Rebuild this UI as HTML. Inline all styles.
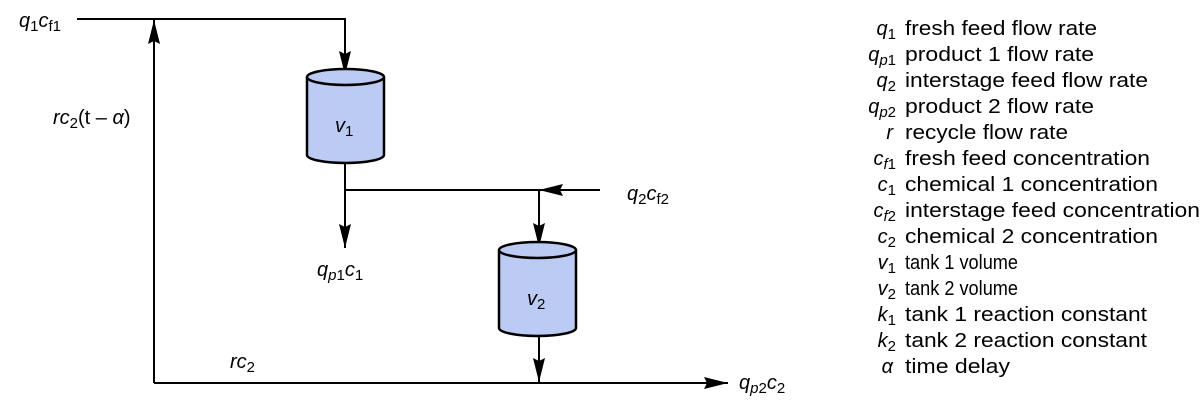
<!DOCTYPE html>
<html><head><meta charset="utf-8"><style>
html,body{margin:0;padding:0;background:#fff;width:1204px;height:404px;overflow:hidden}
svg{display:block;font-family:"Liberation Sans","DejaVu Sans",sans-serif}
.i{font-style:italic}
</style></head><body>
<svg width="1204" height="404" viewBox="0 0 1204 404">
<defs>
<marker id="b" markerWidth="24" markerHeight="12" refX="24" refY="6" orient="auto" markerUnits="userSpaceOnUse" viewBox="0 0 24 12"><path d="M0,0 L24,6 L0,12 L3,6 z" fill="#000"/></marker></defs>
<g stroke="#000" stroke-width="2" fill="none">
<path d="M77,19 H345 V75" marker-end="url(#b)"/>
<path d="M154,383 V20" marker-end="url(#b)"/>
<path d="M345,163 V248" marker-end="url(#b)"/>
<path d="M345,190 H539 V247" marker-end="url(#b)"/>
<path d="M600,190 H539" marker-end="url(#b)"/>
<path d="M539,335 V382" marker-end="url(#b)"/>
<path d="M154,383 H728" marker-end="url(#b)"/>
</g>
<g stroke="#000" stroke-width="2.5" fill="#bccbf3">
<path d="M307,77 V155 A38.5,8 0 0 0 384,155 V77"/>
<ellipse cx="345.5" cy="77" rx="38.5" ry="8"/>
<path d="M499,250 V328 A38.5,8 0 0 0 576,328 V250"/>
<ellipse cx="537.5" cy="250" rx="38.5" ry="8"/>
</g>
<g font-size="20" fill="#000">
<text x="19" y="27"><tspan class="i">q</tspan><tspan font-size="15" dy="4">1</tspan><tspan class="i" dy="-4">c</tspan><tspan font-size="15" dy="4">f1</tspan></text>
<text x="53" y="124"><tspan class="i">rc</tspan><tspan font-size="15" dy="4">2</tspan><tspan dy="-4">(t – </tspan><tspan class="i">α</tspan>)</text>
<text x="335" y="132"><tspan class="i">v</tspan><tspan font-size="15" dy="4">1</tspan></text>
<text x="527" y="305"><tspan class="i">v</tspan><tspan font-size="15" dy="4">2</tspan></text>
<text x="627" y="200"><tspan class="i">q</tspan><tspan font-size="15" dy="4">2</tspan><tspan class="i" dy="-4">c</tspan><tspan font-size="15" dy="4">f2</tspan></text>
<text x="317" y="276"><tspan class="i">q</tspan><tspan font-size="15" class="i" dy="4">p</tspan><tspan font-size="15">1</tspan><tspan class="i" dy="-4">c</tspan><tspan font-size="15" dy="4">1</tspan></text>
<text x="230" y="368"><tspan class="i">rc</tspan><tspan font-size="15" dy="4">2</tspan></text>
<text x="739" y="389"><tspan class="i">q</tspan><tspan font-size="15" class="i" dy="4">p</tspan><tspan font-size="15">2</tspan><tspan class="i" dy="-4">c</tspan><tspan font-size="15" dy="4">2</tspan></text>
</g>
<g font-size="20" fill="#000">
<g text-anchor="end">
<text x="896" y="35"><tspan class="i">q</tspan><tspan font-size="15" dy="4">1</tspan></text>
<text x="896" y="61"><tspan class="i">q</tspan><tspan font-size="15" class="i" dy="4">p</tspan><tspan font-size="15">1</tspan></text>
<text x="896" y="87"><tspan class="i">q</tspan><tspan font-size="15" dy="4">2</tspan></text>
<text x="896" y="113"><tspan class="i">q</tspan><tspan font-size="15" class="i" dy="4">p</tspan><tspan font-size="15">2</tspan></text>
<text x="893" y="139" class="i">r</text>
<text x="896" y="165"><tspan class="i">c</tspan><tspan font-size="15" class="i" dy="4">f</tspan><tspan font-size="15">1</tspan></text>
<text x="896" y="191"><tspan class="i">c</tspan><tspan font-size="15" dy="4">1</tspan></text>
<text x="896" y="217"><tspan class="i">c</tspan><tspan font-size="15" class="i" dy="4">f</tspan><tspan font-size="15">2</tspan></text>
<text x="896" y="243"><tspan class="i">c</tspan><tspan font-size="15" dy="4">2</tspan></text>
<text x="896" y="269"><tspan class="i">v</tspan><tspan font-size="15" dy="4">1</tspan></text>
<text x="896" y="295"><tspan class="i">v</tspan><tspan font-size="15" dy="4">2</tspan></text>
<text x="896" y="321"><tspan class="i">k</tspan><tspan font-size="15" dy="4">1</tspan></text>
<text x="896" y="347"><tspan class="i">k</tspan><tspan font-size="15" dy="4">2</tspan></text>
<text x="893" y="373" class="i">α</text>
</g>
<g lengthAdjust="spacingAndGlyphs">
<text x="905" y="35" textLength="192" lengthAdjust="spacingAndGlyphs">fresh feed flow rate</text>
<text x="905" y="61" textLength="189" lengthAdjust="spacingAndGlyphs">product 1 flow rate</text>
<text x="905" y="87" textLength="243" lengthAdjust="spacingAndGlyphs">interstage feed flow rate</text>
<text x="905" y="113" textLength="189" lengthAdjust="spacingAndGlyphs">product 2 flow rate</text>
<text x="905" y="139" textLength="163" lengthAdjust="spacingAndGlyphs">recycle flow rate</text>
<text x="905" y="165" textLength="245" lengthAdjust="spacingAndGlyphs">fresh feed concentration</text>
<text x="905" y="191" textLength="253" lengthAdjust="spacingAndGlyphs">chemical 1 concentration</text>
<text x="905" y="217" textLength="295" lengthAdjust="spacingAndGlyphs">interstage feed concentration</text>
<text x="905" y="243" textLength="253" lengthAdjust="spacingAndGlyphs">chemical 2 concentration</text>
<text x="905" y="269" textLength="113" lengthAdjust="spacingAndGlyphs">tank 1 volume</text>
<text x="905" y="295" textLength="113" lengthAdjust="spacingAndGlyphs">tank 2 volume</text>
<text x="905" y="321" textLength="242" lengthAdjust="spacingAndGlyphs">tank 1 reaction constant</text>
<text x="905" y="347" textLength="242" lengthAdjust="spacingAndGlyphs">tank 2 reaction constant</text>
<text x="905" y="373" textLength="105" lengthAdjust="spacingAndGlyphs">time delay</text>
</g>
</g>
</svg>
</body></html>
